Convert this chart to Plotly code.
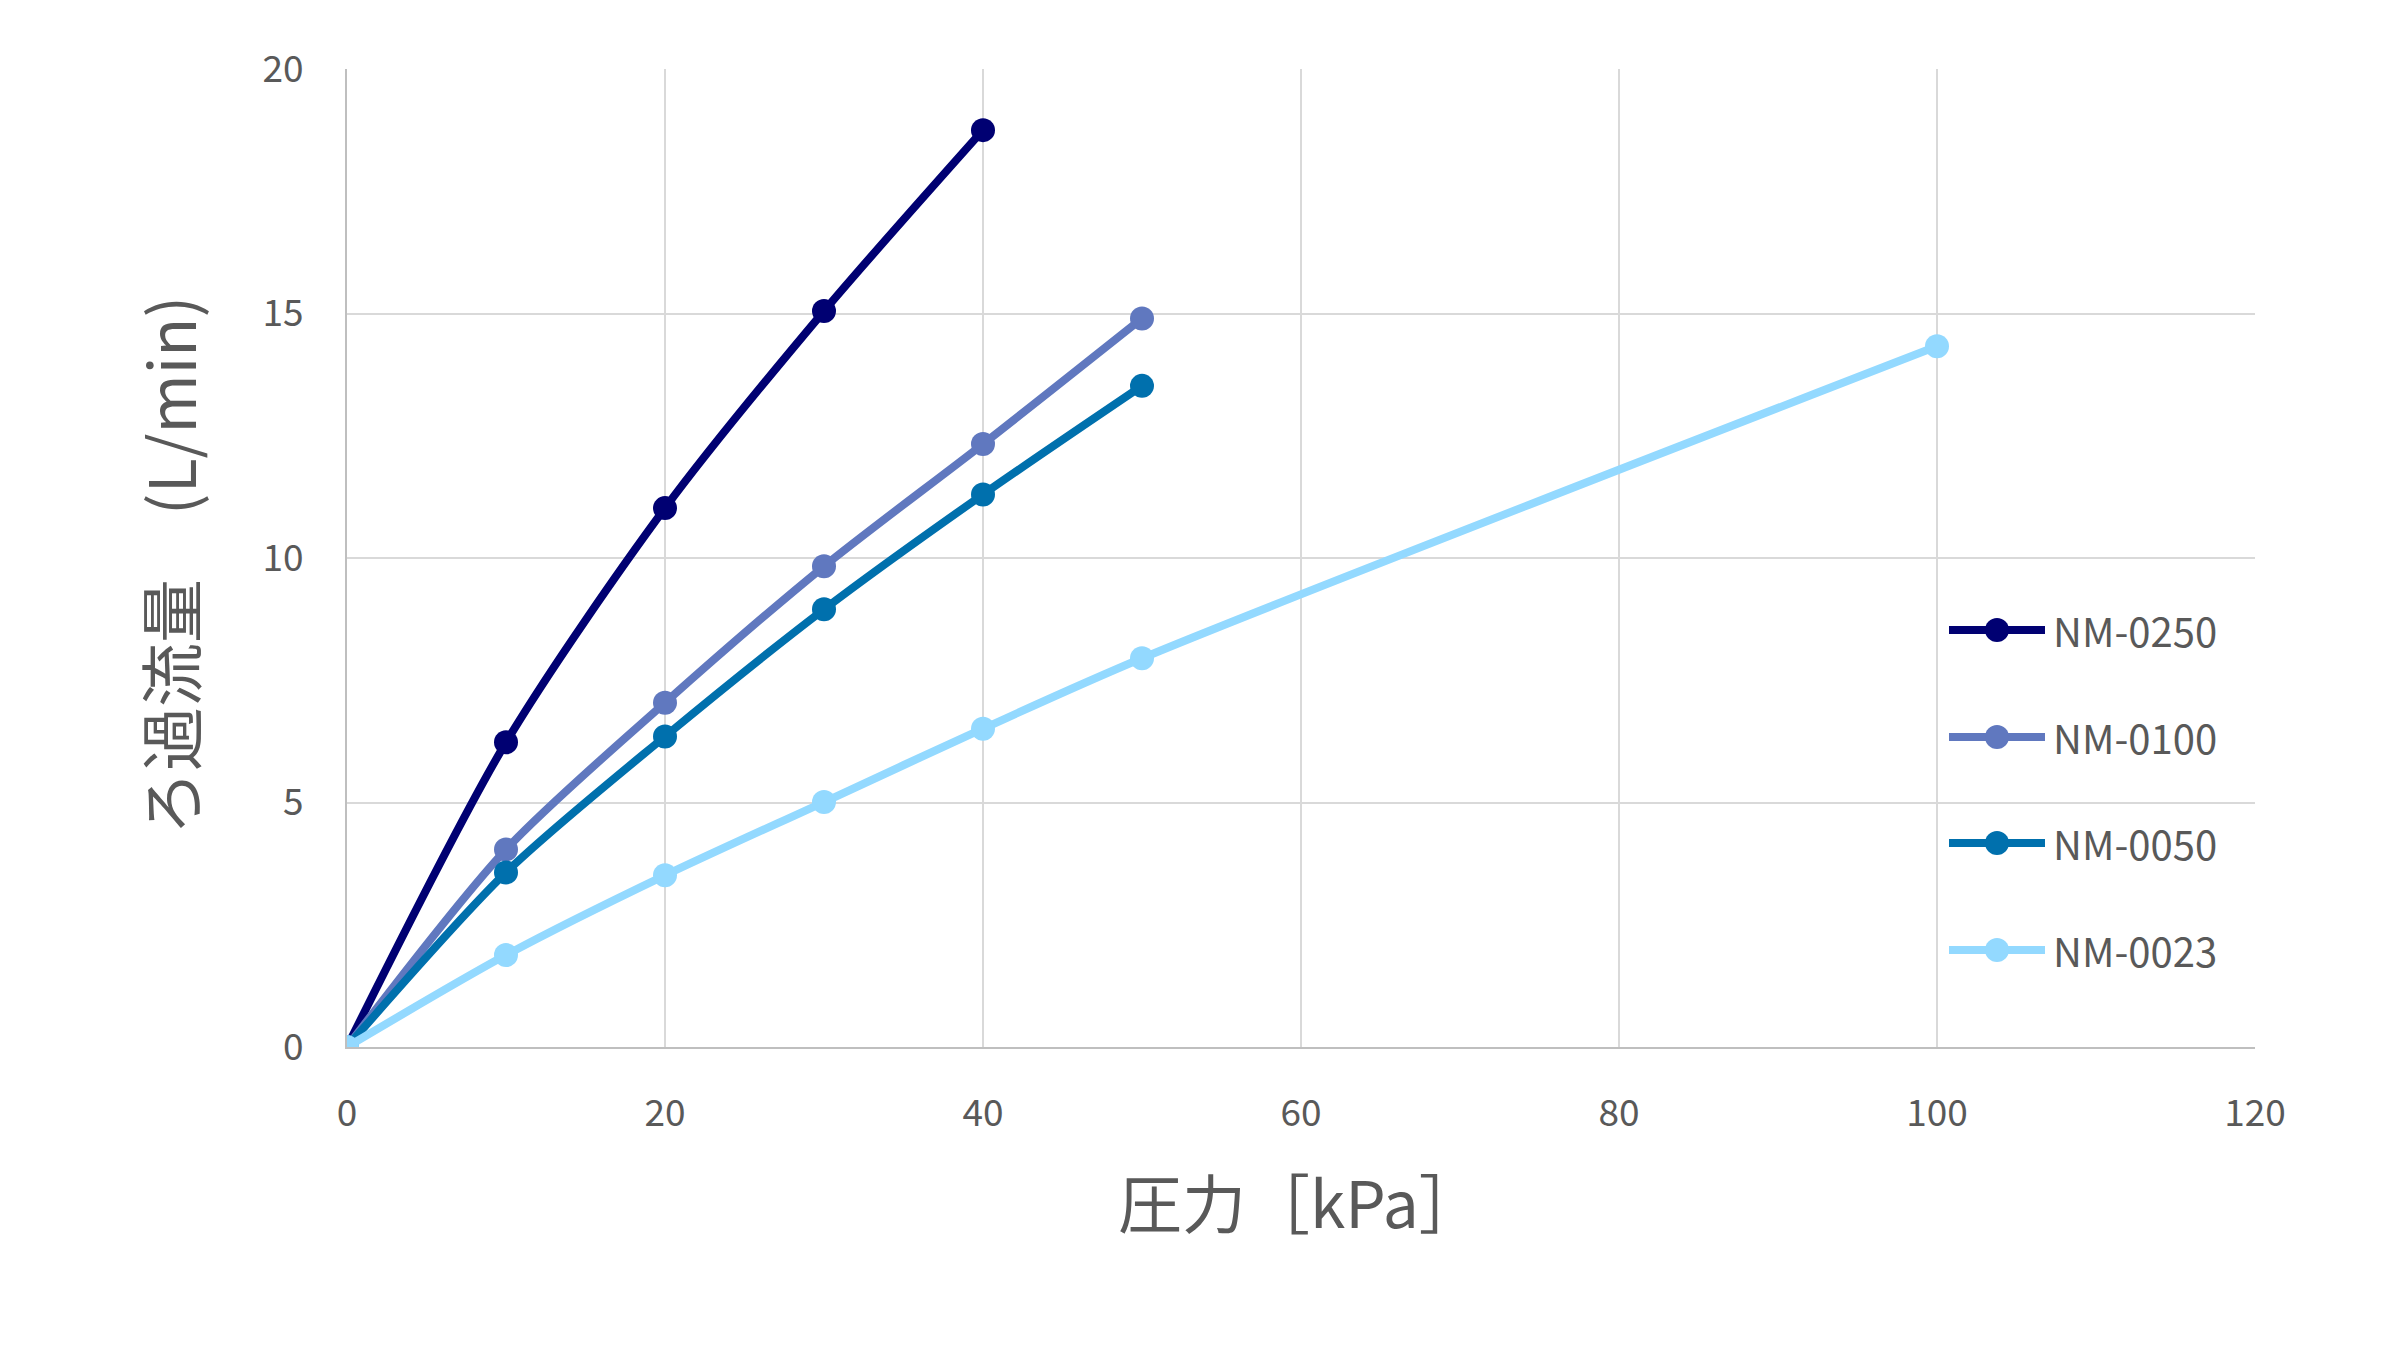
import plotly.graph_objects as go

series_names = ["NM-0250", "NM-0100", "NM-0050", "NM-0023"]
x_0250 = [0, 10, 20, 30, 40]
y_0250 = [0, 6.23, 11.02, 15.05, 18.75]
x_0100 = [0, 10, 20, 30, 40, 50]
y_0100 = [0, 4.04, 7.04, 9.83, 12.33, 14.90]
x_0050 = [0, 10, 20, 30, 40, 50]
y_0050 = [0, 3.57, 6.35, 8.95, 11.30, 13.52]
x_0023 = [0, 10, 20, 30, 40, 50, 100]
y_0023 = [0, 1.88, 3.51, 5.01, 6.51, 7.95, 14.33]
x_ticks = [0, 20, 40, 60, 80, 100, 120]
y_ticks = [0, 5, 10, 15, 20]

colors = ["#000072", "#6078bf", "#0070ad", "#93d9ff"]
xs = [x_0250, x_0100, x_0050, x_0023]
ys = [y_0250, y_0100, y_0050, y_0023]

FONT = "Noto Sans CJK JP"
TXT = "#595959"

fig = go.Figure()
for i in range(4):
    fig.add_trace(go.Scatter(
        x=xs[i], y=ys[i], name=series_names[i], mode="lines+markers",
        line=dict(color=colors[i], width=8, shape="spline", smoothing=0.8),
        marker=dict(color=colors[i], size=24),
        showlegend=False,
    ))

W, H = 2400, 1362
L, R, T, B = 347, 145, 69, 315

fig.update_layout(
    width=W, height=H,
    margin=dict(l=L, r=R, t=T, b=B),
    paper_bgcolor="white", plot_bgcolor="white",
    font=dict(family=FONT, color=TXT),
    showlegend=False,
)
fig.update_xaxes(
    range=[0, 120], tickvals=x_ticks, ticktext=[str(v) for v in x_ticks],
    showgrid=True, gridcolor="#d9d9d9", gridwidth=2,
    showline=True, linecolor="#bfbfbf", linewidth=2,
    zeroline=False, ticks="", tickfont=dict(size=37, color=TXT, family=FONT),
    ticklabelstandoff=33, mirror=False,
)
fig.update_yaxes(
    range=[0, 20], tickvals=y_ticks, ticktext=[str(v) for v in y_ticks],
    showgrid=True, gridcolor="#d9d9d9", gridwidth=2,
    showline=True, linecolor="#bfbfbf", linewidth=2,
    zeroline=False, ticks="", tickfont=dict(size=37, color=TXT, family=FONT),
    ticklabelstandoff=34,
)

pw, ph = W - L - R, H - T - B

# axis titles
fig.add_annotation(text="圧力［kPa］", xref="paper", yref="paper",
                   x=(1300 - L) / pw, y=-(1200 - (H - B)) / ph,
                   showarrow=False, font=dict(size=64, color=TXT, family=FONT),
                   xanchor="center", yanchor="middle")
fig.add_annotation(text="ろ過流量　(L/min)", xref="paper", yref="paper",
                   x=-(L - 168) / pw, y=((H - B) - 566) / ph,
                   showarrow=False, textangle=-90,
                   font=dict(size=64, color=TXT, family=FONT),
                   xanchor="center", yanchor="middle")

# custom legend
leg_y = [630, 737, 843, 950]
for i in range(4):
    yp = ((H - B) - leg_y[i]) / ph
    x0 = (1949 - L) / pw
    x1 = (2045 - L) / pw
    xc = (1997 - L) / pw
    fig.add_shape(type="line", xref="paper", yref="paper", x0=x0, x1=x1, y0=yp, y1=yp,
                  line=dict(color=colors[i], width=8), layer="above")
    fig.add_shape(type="circle", xref="paper", yref="paper", xsizemode="pixel", ysizemode="pixel",
                  xanchor=xc, yanchor=yp, x0=-12, x1=12, y0=-12, y1=12,
                  fillcolor=colors[i], line=dict(width=0), layer="above")
    fig.add_annotation(text=series_names[i], xref="paper", yref="paper",
                       x=(2051 - L) / pw, y=yp, showarrow=False, xanchor="left", yanchor="middle",
                       font=dict(size=40, color=TXT, family=FONT))

fig.write_html("out.html")
